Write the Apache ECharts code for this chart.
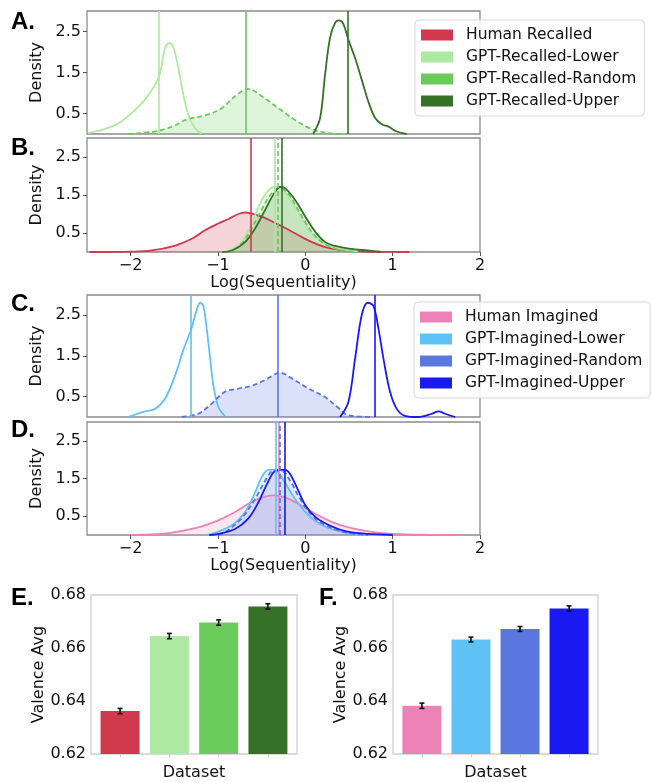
<!DOCTYPE html>
<html>
<head>
<meta charset="utf-8">
<script src="https://cdn.jsdelivr.net/npm/echarts@6/dist/echarts.min.js"></script>
<style>html,body{margin:0;padding:0;background:#fff;}#c{width:651px;height:782px;}</style>
</head>
<body>
<div id="c"></div>
<script>
// ---------- Data ----------
const xTicks = [-2, -1, 0, 1, 2];
const yTicks = [0.5, 1.5, 2.5];

// Panel A (recalled, unconditioned GPT)
const lowerA_x = [-2.49, -2.3, -2.14, -1.95, -1.80, -1.675, -1.607, -1.561, -1.511, -1.454, -1.397, -1.34, -1.263, -1.19];
const lowerA_y = [0.02, 0.12, 0.26, 0.59, 0.94, 1.41, 2.10, 2.22, 2.10, 1.61, 0.96, 0.47, 0.14, 0.01];
const randomA_x = [-2.03, -1.85, -1.68, -1.5, -1.377, -1.11, -0.957, -0.805, -0.652, -0.499, -0.308, -0.117, 0.074, 0.264, 0.45];
const randomA_y = [0.0, 0.03, 0.08, 0.2, 0.34, 0.48, 0.63, 0.92, 1.10, 0.92, 0.63, 0.34, 0.12, 0.02, 0.0];
const upperA_x = [0.09, 0.169, 0.226, 0.283, 0.341, 0.386, 0.436, 0.493, 0.569, 0.646, 0.722, 0.799, 0.875, 0.952, 1.047, 1.16];
const upperA_y = [0.0, 0.39, 1.45, 2.35, 2.71, 2.77, 2.68, 2.30, 1.86, 1.32, 0.79, 0.39, 0.24, 0.18, 0.06, 0.0];
const vlinesA = [-1.675, -0.679, 0.482]; // lower, random, upper

// Panel B
const humanB_x = [-2.47, -2.0, -1.76, -1.49, -1.30, -1.15, -0.996, -0.88, -0.767, -0.69, -0.613, -0.50, -0.385, -0.23, -0.078, 0.075, 0.228, 0.38, 0.61, 0.9, 1.19];
const humanB_y = [0.0, 0.01, 0.04, 0.17, 0.35, 0.57, 0.75, 0.87, 1.0, 1.04, 1.01, 0.93, 0.81, 0.63, 0.44, 0.26, 0.13, 0.06, 0.02, 0.005, 0.0];
const lowerB_x = [-0.92, -0.83, -0.728, -0.61, -0.537, -0.44, -0.347, -0.27, -0.155, -0.04, 0.075, 0.228, 0.38, 0.6];
const lowerB_y = [0.0, 0.08, 0.26, 0.75, 1.19, 1.58, 1.71, 1.67, 1.33, 0.89, 0.49, 0.22, 0.09, 0.02];
const randomB_x = [-0.9, -0.8, -0.7, -0.6, -0.5, -0.4, -0.3, -0.2, -0.1, 0.0, 0.1, 0.2, 0.35, 0.55];
const randomB_y = [0.0, 0.08, 0.3, 0.68, 1.12, 1.5, 1.68, 1.55, 1.18, 0.78, 0.45, 0.24, 0.08, 0.01];
const upperB_x = [-0.95, -0.84, -0.69, -0.575, -0.46, -0.366, -0.29, -0.232, -0.117, 0.0, 0.114, 0.228, 0.343, 0.5, 0.76, 0.86];
const upperB_y = [0.0, 0.04, 0.26, 0.62, 1.11, 1.51, 1.71, 1.68, 1.37, 0.93, 0.53, 0.26, 0.16, 0.09, 0.03, 0.0];
const vlinesB = [-0.621, -0.346, -0.316, -0.27]; // human, lower, random, upper

// Panel C (imagined, unconditioned GPT)
const lowerC_x = [-2.03, -1.836, -1.72, -1.607, -1.49, -1.397, -1.31, -1.244, -1.206, -1.168, -1.13, -1.09, -1.053, -0.996, -0.92];
const lowerC_y = [0.0, 0.14, 0.2, 0.45, 1.03, 1.65, 2.14, 2.63, 2.81, 2.73, 2.18, 1.44, 0.78, 0.25, 0.02];
const randomC_x = [-1.415, -1.225, -1.072, -0.92, -0.767, -0.613, -0.46, -0.29, -0.155, 0.035, 0.226, 0.38, 0.493, 0.76];
const randomC_y = [0.0, 0.08, 0.33, 0.62, 0.70, 0.77, 0.91, 1.09, 0.95, 0.70, 0.49, 0.22, 0.04, 0.0];
const upperC_x = [0.398, 0.493, 0.57, 0.646, 0.715, 0.78, 0.837, 0.894, 0.97, 1.047, 1.14, 1.295, 1.448, 1.524, 1.6, 1.715];
const upperC_y = [0.0, 0.37, 1.44, 2.51, 2.81, 2.73, 2.18, 1.44, 0.62, 0.2, 0.03, 0.0, 0.08, 0.14, 0.08, 0.0];
const vlinesC = [-1.309, -0.316, 0.799];

// Panel D
const humanD_x = [-2.0, -1.57, -1.263, -0.996, -0.805, -0.652, -0.5, -0.366, -0.232, -0.08, 0.11, 0.30, 0.53, 0.8, 1.1, 1.4, 1.75];
const humanD_y = [0.0, 0.05, 0.18, 0.39, 0.61, 0.83, 0.99, 1.05, 1.0, 0.83, 0.57, 0.35, 0.18, 0.07, 0.02, 0.005, 0.0];
const lowerD_x = [-1.15, -1.07, -0.84, -0.69, -0.575, -0.5, -0.424, -0.347, -0.27, -0.155, -0.04, 0.075, 0.228, 0.38, 0.57, 0.7];
const lowerD_y = [0.0, 0.03, 0.26, 0.61, 1.13, 1.53, 1.73, 1.73, 1.53, 1.09, 0.72, 0.44, 0.22, 0.11, 0.03, 0.0];
const randomD_x = [-1.0, -0.92, -0.73, -0.575, -0.46, -0.366, -0.27, -0.175, -0.06, 0.075, 0.228, 0.457, 0.72];
const randomD_y = [0.0, 0.07, 0.44, 0.96, 1.44, 1.7, 1.7, 1.44, 0.96, 0.52, 0.26, 0.07, 0.0];
const upperD_x = [-1.1, -0.996, -0.805, -0.652, -0.537, -0.44, -0.366, -0.31, -0.232, -0.175, -0.08, 0.0, 0.114, 0.228, 0.343, 0.5, 0.72, 1.0];
const upperD_y = [0.0, 0.03, 0.16, 0.44, 0.87, 1.35, 1.66, 1.73, 1.73, 1.62, 1.18, 0.79, 0.48, 0.31, 0.19, 0.08, 0.03, 0.0];
const vlinesD = [-0.297, -0.34, -0.29, -0.243]; // human, lower, random, upper

// Bars
const recalledNames = ['Human Recalled', 'GPT-Recalled-Lower', 'GPT-Recalled-Random', 'GPT-Recalled-Upper'];
const imaginedNames = ['Human Imagined', 'GPT-Imagined-Lower', 'GPT-Imagined-Random', 'GPT-Imagined-Upper'];
const valenceE = [0.6362, 0.6645, 0.6696, 0.6757];
const errE = [0.0010, 0.0010, 0.0010, 0.0010];
const valenceF = [0.6382, 0.6632, 0.6672, 0.6749];
const errF = [0.0010, 0.0009, 0.0009, 0.0010];
const valenceTicks = [0.62, 0.64, 0.66, 0.68];

// Colours
const recalledColors = ['#d1394f', '#ade9a0', '#6acc5a', '#367128'];
const imaginedColors = ['#ed82b7', '#5ec2f7', '#5b76de', '#1a1af0'];

// ---------- Build ----------
const FONT = 'DejaVu Sans';
const chart = echarts.init(document.getElementById('c'));

const densGrids = [
  {left: 87, top: 11, width: 393, height: 123},
  {left: 87, top: 138, width: 393, height: 114},
  {left: 87, top: 295, width: 393, height: 122},
  {left: 87, top: 422, width: 393, height: 113}
];
const grids = densGrids.map(g => Object.assign({show: true, borderColor: '#8c8c8c', borderWidth: 1.3, backgroundColor: 'transparent'}, g));
grids.push({left: 91, top: 595, width: 206, height: 168, show: true, borderColor: '#cfcfcf', borderWidth: 1.3});
grids.push({left: 393, top: 595, width: 205, height: 169, show: true, borderColor: '#cfcfcf', borderWidth: 1.3});

const xAxes = [], yAxes = [];
for (let i = 0; i < 4; i++) {
  const showX = (i === 1 || i === 3);
  xAxes.push({
    type: 'value', gridIndex: i, min: -2.5, max: 2,
    splitLine: {show: false},
    axisLine: {show: false, onZero: false},
    axisTick: {show: showX, customValues: xTicks, length: 4, lineStyle: {color: '#555'}},
    axisLabel: {show: showX, customValues: xTicks, fontFamily: FONT, fontSize: 16, color: '#111', margin: 6,
      formatter: v => (v < 0 ? '\u2212' + Math.abs(v) : String(v))},
    name: showX ? 'Log(Sequentiality)' : '', nameLocation: 'middle', nameGap: 22,
    nameTextStyle: {fontFamily: FONT, fontSize: 16, color: '#111'}
  });
  yAxes.push({
    type: 'value', gridIndex: i, min: 0, max: 3.0,
    splitLine: {show: false},
    axisLine: {show: false, onZero: false},
    axisTick: {show: true, customValues: yTicks, length: 4, lineStyle: {color: '#555'}},
    axisLabel: {customValues: yTicks, fontFamily: FONT, fontSize: 16, color: '#111', margin: 6,
      formatter: v => v.toFixed(1)},
    name: 'Density', nameLocation: 'middle', nameGap: 36,
    nameTextStyle: {fontFamily: FONT, fontSize: 16, color: '#111'}
  });
}
for (let i = 4; i < 6; i++) {
  xAxes.push({
    type: 'value', gridIndex: i, min: -0.59, max: 3.59,
    splitLine: {show: false}, axisLine: {show: false, onZero: false},
    axisTick: {show: true, customValues: [0, 1, 2, 3], length: 3, lineStyle: {color: '#cfcfcf'}},
    axisLabel: {show: false},
    name: 'Dataset', nameLocation: 'middle', nameGap: 11,
    nameTextStyle: {fontFamily: FONT, fontSize: 16, color: '#111'}
  });
  yAxes.push({
    type: 'value', gridIndex: i, min: 0.62, max: 0.68,
    splitLine: {show: false}, axisLine: {show: false, onZero: false},
    axisTick: {show: false},
    axisLabel: {customValues: valenceTicks, fontFamily: FONT, fontSize: 16, color: '#111', margin: 5,
      formatter: v => v.toFixed(2)},
    name: 'Valence Avg', nameLocation: 'middle', nameGap: 42,
    nameTextStyle: {fontFamily: FONT, fontSize: 16, color: '#111'}
  });
}

function dens(name, xs, ys, color, gi, vline, opts) {
  opts = opts || {};
  const s = {
    type: 'line', name: name, xAxisIndex: gi, yAxisIndex: gi,
    data: xs.map((x, k) => [x, ys[k]]),
    smooth: 0.35, symbol: 'none', silent: true,
    itemStyle: {color: color},
    lineStyle: {color: color, width: 1.8, type: opts.dashed ? [5, 3] : 'solid'},
    z: opts.z || 3,
    markLine: {
      silent: true, symbol: 'none', label: {show: false},
      lineStyle: {color: color, width: 1.6, type: opts.vdashed ? [5, 3] : 'solid'},
      data: [{xAxis: vline}]
    }
  };
  if (opts.fill) s.areaStyle = {color: color, opacity: opts.alpha || 0.2};
  return s;
}

const series = [
  // A
  dens(recalledNames[1], lowerA_x, lowerA_y, recalledColors[1], 0, vlinesA[0], {}),
  dens(recalledNames[2], randomA_x, randomA_y, recalledColors[2], 0, vlinesA[1], {dashed: true, fill: true, alpha: 0.22}),
  dens(recalledNames[3], upperA_x, upperA_y, recalledColors[3], 0, vlinesA[2], {}),
  // B
  dens(recalledNames[0], humanB_x, humanB_y, recalledColors[0], 1, vlinesB[0], {fill: true, alpha: 0.22}),
  dens(recalledNames[1], lowerB_x, lowerB_y, recalledColors[1], 1, vlinesB[1], {fill: true, alpha: 0.2}),
  dens(recalledNames[2], randomB_x, randomB_y, recalledColors[2], 1, vlinesB[2], {fill: true, dashed: true, vdashed: true, alpha: 0.15}),
  dens(recalledNames[3], upperB_x, upperB_y, recalledColors[3], 1, vlinesB[3], {fill: true, alpha: 0.12}),
  // C
  dens(imaginedNames[1], lowerC_x, lowerC_y, imaginedColors[1], 2, vlinesC[0], {}),
  dens(imaginedNames[2], randomC_x, randomC_y, imaginedColors[2], 2, vlinesC[1], {dashed: true, fill: true, alpha: 0.22}),
  dens(imaginedNames[3], upperC_x, upperC_y, imaginedColors[3], 2, vlinesC[2], {}),
  // D
  dens(imaginedNames[0], humanD_x, humanD_y, imaginedColors[0], 3, vlinesD[0], {fill: true, alpha: 0.2}),
  dens(imaginedNames[1], lowerD_x, lowerD_y, imaginedColors[1], 3, vlinesD[1], {fill: true, alpha: 0.15}),
  dens(imaginedNames[2], randomD_x, randomD_y, imaginedColors[2], 3, vlinesD[2], {fill: true, dashed: true, vdashed: true, alpha: 0.08}),
  dens(imaginedNames[3], upperD_x, upperD_y, imaginedColors[3], 3, vlinesD[3], {fill: true, alpha: 0.06})
];

function barSeries(vals, colors, gi) {
  return {
    type: 'bar', xAxisIndex: gi, yAxisIndex: gi, barWidth: 39, silent: true,
    data: vals.map((v, k) => ({value: [k, v], itemStyle: {color: colors[k]}})),
    z: 2
  };
}
function errSeries(vals, errs, gi) {
  return {
    type: 'custom', xAxisIndex: gi, yAxisIndex: gi, silent: true, z: 5,
    data: vals.map((v, k) => [k, v - errs[k], v + errs[k]]),
    renderItem: function (params, api) {
      const lo = api.coord([api.value(0), api.value(1)]);
      const hi = api.coord([api.value(0), api.value(2)]);
      const w = 2.5;
      const st = {stroke: '#111', lineWidth: 1.6};
      return {type: 'group', children: [
        {type: 'line', shape: {x1: lo[0], y1: lo[1], x2: hi[0], y2: hi[1]}, style: st},
        {type: 'line', shape: {x1: lo[0] - w, y1: lo[1], x2: lo[0] + w, y2: lo[1]}, style: st},
        {type: 'line', shape: {x1: hi[0] - w, y1: hi[1], x2: hi[0] + w, y2: hi[1]}, style: st}
      ]};
    }
  };
}
series.push(barSeries(valenceE, recalledColors, 4), errSeries(valenceE, errE, 4));
series.push(barSeries(valenceF, imaginedColors, 5), errSeries(valenceF, errF, 5));

const legendCommon = {
  orient: 'vertical', icon: 'rect', itemWidth: 32, itemHeight: 11, itemGap: 6,
  selectedMode: false,
  backgroundColor: 'rgba(255,255,255,0.85)', borderColor: '#d6d6d6', borderWidth: 1, borderRadius: 4,
  padding: [7, 8, 7, 6],
  textStyle: {fontFamily: FONT, fontSize: 15.5, color: '#111', padding: [0, 0, 0, 8]}
};
const legends = [
  Object.assign({}, legendCommon, {left: 415, top: 20, data: recalledNames}),
  Object.assign({}, legendCommon, {left: 414, top: 302, data: imaginedNames})
];

const letters = [['A.', 11, 23], ['B.', 11, 149], ['C.', 11, 305], ['D.', 11, 431], ['E.', 11, 599], ['F.', 319, 599]];
const graphic = letters.map(l => ({
  type: 'text', left: l[1], top: l[2] - 13, z: 100,
  style: {text: l[0], font: 'bold 24px "Liberation Sans"', fill: '#000'}
}));

chart.setOption({
  animation: false,
  grid: grids, xAxis: xAxes, yAxis: yAxes,
  legend: legends, series: series, graphic: graphic
});
</script>
</body>
</html>
